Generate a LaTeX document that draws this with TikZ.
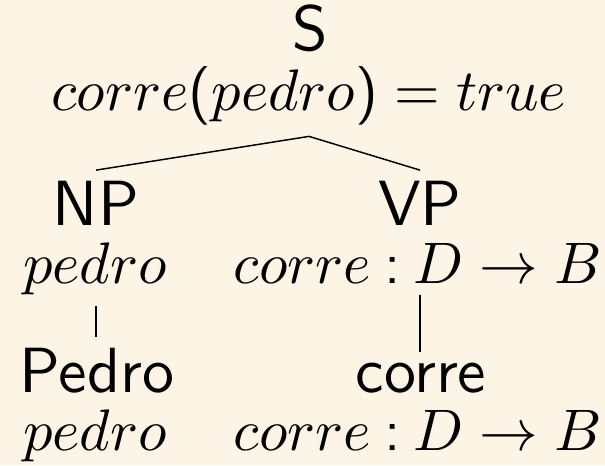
\documentclass[tikz,border=0pt]{standalone}
\definecolor{bgcream}{RGB}{252,245,229}
\newcommand{\sfc}[1]{\mbox{\sffamily #1}}
\begin{document}
\begin{tikzpicture}[x=0.17065pt,y=-0.17065pt,
  lbl/.style={font=\sffamily\fontsize{10.9}{13}\selectfont, anchor=base, inner sep=1.6pt},
  sem/.style={anchor=base, inner sep=1.8pt},
  edge/.style={draw=black, line width=0.25pt}]
\fill[bgcream] (0,0) rectangle (605,465);
\useasboundingbox (0,0) rectangle (605,465);
% root
\node[lbl] (s) at (310,50) {S};
\node[sem] (ssem) at (309,110) {$corre\mathopen{\sfc{(}}pedro\mathclose{\sfc{)}} \mathrel{\sfc{=}} true$};
% NP
\node[lbl] (np) at (96,225) {NP};
\node[sem] (npsem) at (95,283) {$pedro$};
% VP
\node[lbl] (vp) at (420,225) {VP};
\node[sem] (vpsem) at (418,283) {$corre \mathbin{\sfc{:}} D \to B$};
% leaves
\node[lbl] (pedro) at (97,392) {Pedro};
\node[sem] (pedrosem) at (95,450) {$pedro$};
\node[lbl] (corre) at (421,392) {corre};
\node[sem] (corresem) at (418,450) {$corre \mathbin{\sfc{:}} D \to B$};
% edges
\draw[edge] (ssem.south) -- (np.north);
\draw[edge] (ssem.south) -- (vp.north);
\draw[edge] (np.south |- npsem.south) -- (np.south |- pedro.north);
\draw[edge] (vp.south |- vpsem.south) -- (vp.south |- corre.north);
\end{tikzpicture}
\end{document}
